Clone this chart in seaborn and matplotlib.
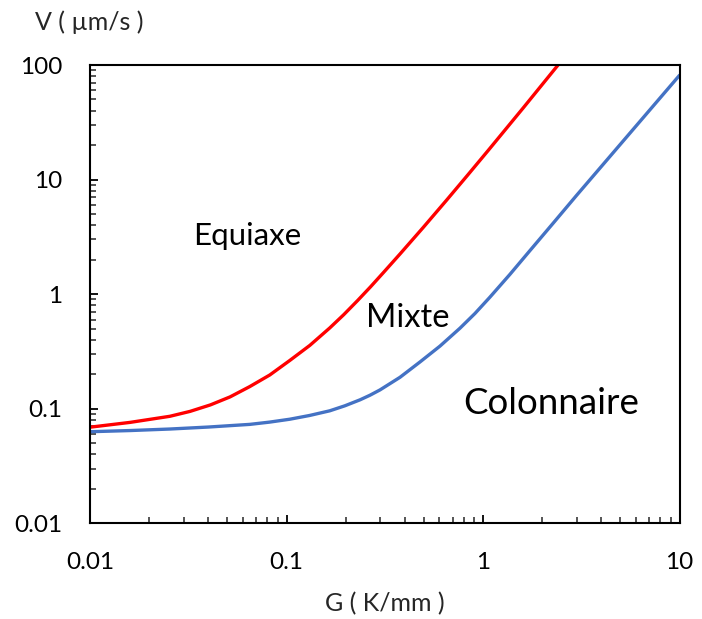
import matplotlib
matplotlib.use("Agg")
import matplotlib.pyplot as plt
import matplotlib.ticker as mticker
import seaborn as sns
import pandas as pd

# Data
red_G = [0.01, 0.016, 0.0255, 0.0323, 0.041, 0.0516, 0.065, 0.0822, 0.104, 0.1314, 0.166,
         0.1954, 0.23, 0.2675, 0.311, 0.378, 0.497, 0.653, 0.834, 1.064, 1.6, 2.41]
red_V = [0.069, 0.076, 0.0859, 0.0948, 0.108, 0.1268, 0.156, 0.197, 0.264, 0.357, 0.507,
         0.661, 0.879, 1.157, 1.54, 2.24, 3.83, 6.62, 10.9, 18.0, 42.1, 100.0]
blue_G = [0.01, 0.016, 0.0255, 0.04, 0.065, 0.082, 0.104, 0.131, 0.166, 0.198, 0.237, 0.266,
          0.299, 0.378, 0.478, 0.604, 0.764, 0.91, 1.085, 1.37, 1.73, 2.28, 3.0, 5.48, 10.0]
blue_V = [0.063, 0.0645, 0.0665, 0.0692, 0.0730, 0.0764, 0.0810, 0.0873, 0.0959, 0.106,
          0.1197, 0.1312, 0.1459, 0.188, 0.256, 0.352, 0.505, 0.678, 0.942, 1.486, 2.39,
          4.18, 7.31, 24.4, 81.3]

x_ticks = [0.01, 0.1, 1, 10]
x_tick_labels = ["0.01", "0.1", "1", "10"]
y_ticks = [0.01, 0.1, 1, 10, 100]
y_tick_labels = ["0.01", "0.1", "1", "10", "100"]

region_labels = ["Equiaxe", "Mixte", "Colonnaire"]
region_G = [0.0334, 0.254, 0.79]
region_V = [3.2, 0.618, 0.11]
region_sizes = [22.5, 23.5, 26.5]

sns.set_style("ticks")
plt.rcParams["font.family"] = ["Lato", "DejaVu Sans"]

df_red = pd.DataFrame({"G": red_G, "V": red_V})
df_blue = pd.DataFrame({"G": blue_G, "V": blue_V})

fig = plt.figure(figsize=(7.02, 6.19), dpi=100)
ax = fig.add_axes([90 / 702, 1 - 523.3 / 619, (679.5 - 90) / 702, (523.3 - 65) / 619])

sns.lineplot(data=df_red, x="G", y="V", ax=ax, color="#FF0000", linewidth=2.4, sort=False)
sns.lineplot(data=df_blue, x="G", y="V", ax=ax, color="#4472C4", linewidth=2.4, sort=False)

ax.set_xscale("log")
ax.set_yscale("log")
ax.set_xlim(0.01, 10)
ax.set_ylim(0.01, 100)

ax.xaxis.set_major_locator(mticker.FixedLocator(x_ticks))
ax.xaxis.set_major_formatter(mticker.FixedFormatter(x_tick_labels))
ax.yaxis.set_major_locator(mticker.FixedLocator(y_ticks))
ax.yaxis.set_major_formatter(mticker.FixedFormatter(y_tick_labels))
ax.xaxis.set_minor_locator(mticker.LogLocator(base=10, subs=range(2, 10)))
ax.yaxis.set_minor_locator(mticker.LogLocator(base=10, subs=range(2, 10)))
ax.xaxis.set_minor_formatter(mticker.NullFormatter())
ax.yaxis.set_minor_formatter(mticker.NullFormatter())

ax.tick_params(axis="both", which="major", direction="in", length=6, width=1.3,
               labelsize=17.5, colors="black")
ax.tick_params(axis="both", which="minor", direction="in", length=4, width=1.1)
ax.tick_params(axis="x", which="major", pad=21)
ax.tick_params(axis="y", which="major", pad=20)
ax.tick_params(top=False, right=False, which="both")

for s in ax.spines.values():
    s.set_visible(True)
    s.set_color("black")
    s.set_linewidth(1.5)

ax.set_xlabel("")
ax.set_ylabel("")

for lab, g, v, fs in zip(region_labels, region_G, region_V, region_sizes):
    ax.text(g, v, lab, fontsize=fs, ha="left", va="center", color="black")

fig.text(35 / 702, 1 - 22 / 619, "V ( µm/s )", fontsize=18, ha="left", va="center", color="#262626")
fig.text(385 / 702, 1 - 604 / 619, "G ( K/mm )", fontsize=18, ha="center", va="center", color="#262626")

fig.savefig("out.png", dpi=100)
